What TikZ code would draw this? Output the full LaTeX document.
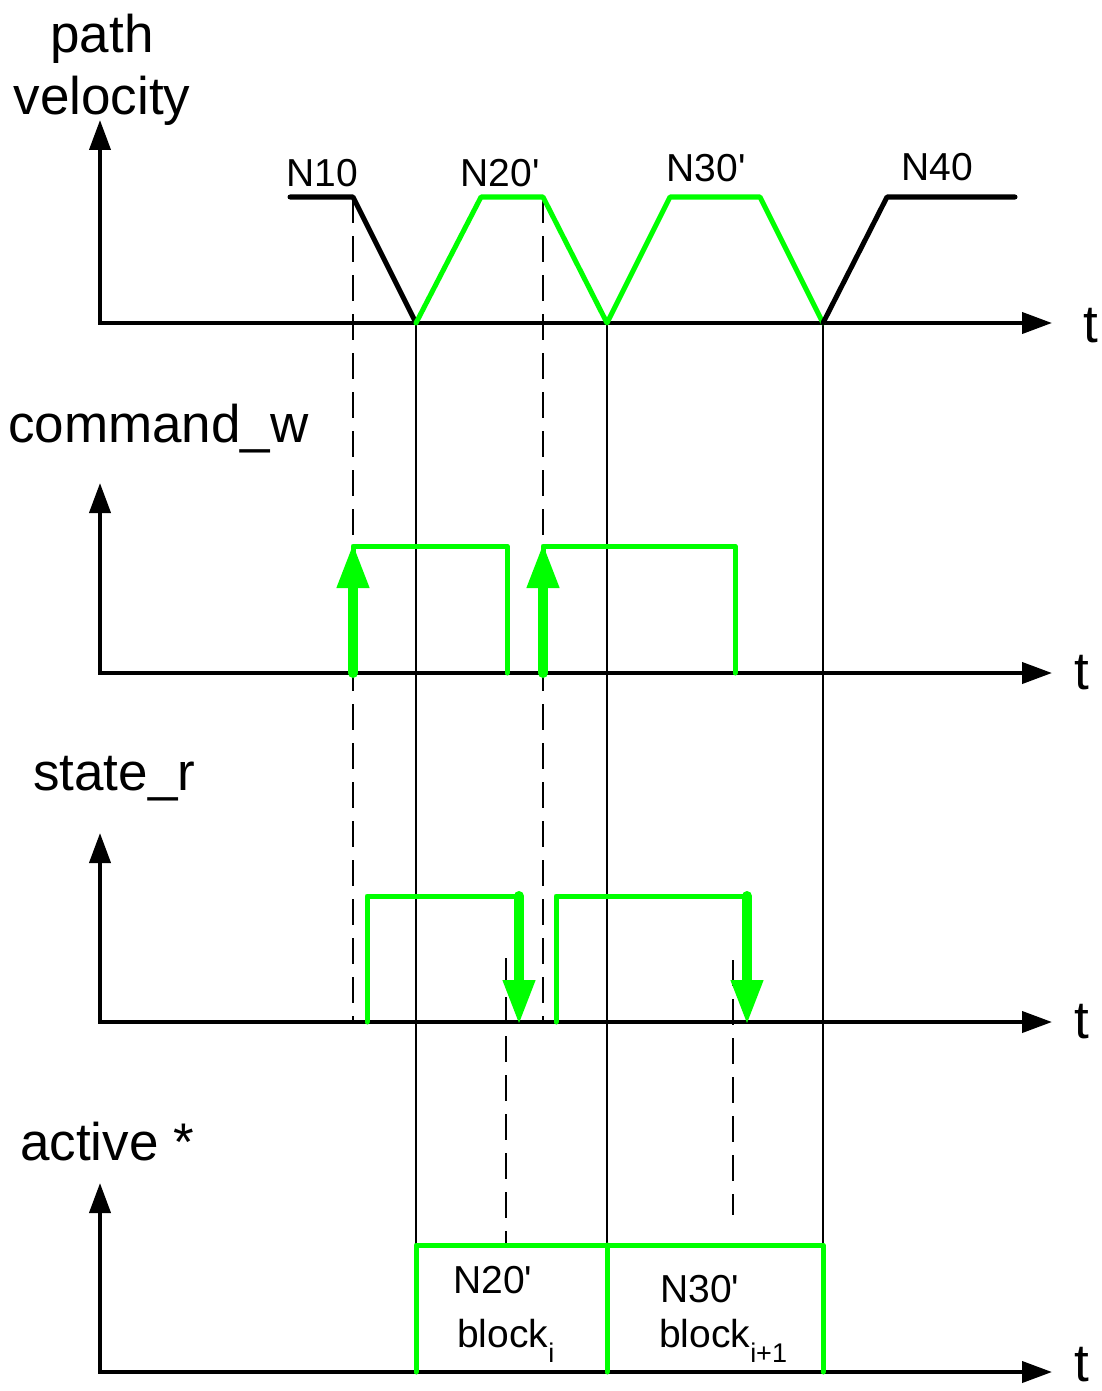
\documentclass[tikz,border=0pt]{standalone}
\usepackage{fontspec}
\setmainfont{Liberation Sans}
\usepackage{xcolor}
\usetikzlibrary{arrows.meta}
\definecolor{signal}{RGB}{0,255,0}

\begin{document}
\begin{tikzpicture}[x=1pt,y=-1pt,>={Triangle[width=21pt,length=30pt]},line join=round,inner sep=0pt]
                \tikzset{axis/.style={<->, line width=4pt, line join=miter},
                         wave/.style={signal, line width=5pt, line cap=round},
                         event/.style={signal, line width=10pt, line cap=round, -{Triangle[width=30pt,length=45pt]}},
                         guide/.style={line width=1.6pt},
                         hint/.style={guide, dash pattern=on 26pt off 13pt},
                         title/.style={font=\fontsize{53}{62}\selectfont},
                         tag/.style={font=\fontsize{39}{44}\selectfont, anchor=base}}

                \useasboundingbox (0,0) rectangle (1101,1391);

                % time marks
                \draw[guide] (416,323) -- (416,1372);
                \draw[guide] (607,323) -- (607,1372);
                \draw[guide] (823,323) -- (823,1372);
                \draw[hint] (353,197) -- (353,1022);
                \draw[hint] (543,197) -- (543,1022);
                \draw[hint] (506,958) -- (506,1245);
                \draw[hint] (733,960) -- (733,1215);

                % axes
                \foreach \y/\top in {323/120, 673/483, 1022/833, 1372/1183}
                  \draw[axis] (100,\top) -- (100,\y) -- (1052,\y);

                \node[title, align=center] (V) at (102,70) {path\\velocity};
                \node[title, anchor=base west] (C) at (8,442) {command\_w};
                \node[title, anchor=base west] (S) at (33,790) {state\_r};
                \node[title, anchor=base west] (A) at (20,1160) {active *};
                \node[title, anchor=base west] (T1) at (1083,342) {t};
                \node[title, anchor=base west] (T2) at (1074,689) {t};
                \node[title, anchor=base west] (T3) at (1074,1038) {t};
                \node[title, anchor=base west] (T4) at (1074,1381) {t};

                % path velocity
                \node[tag] (N10) at (322,186) {N10};
                \node[tag] (N20) at (500,186) {N20\textquotesingle};
                \node[tag] (N30) at (706,182) {N30\textquotesingle};
                \node[tag] (N40) at (937,181) {N40};
                \draw[wave, black] (290,197) -- (353,197) -- (416,323);
                \draw[wave] (416,323) -- (481,197) -- (543,197) -- (607,323) -- (670,197) -- (760,197) -- (823,323);
                \draw[wave, black] (823,323) -- (887,197) -- (1015,197);

                % command_w
                \draw[wave] (353,673) -- (353,546) -- (507,546) -- (507,673);
                \draw[wave] (543,673) -- (543,546) -- (735,546) -- (735,673);
                \draw[event] (353,673) -- (353,543);
                \draw[event] (543,673) -- (543,543);

                % state_r
                \draw[wave] (367,1022) -- (367,896) -- (519,896);
                \draw[wave] (556,1022) -- (556,896) -- (747,896);
                \draw[event] (519,896) -- (519,1025);
                \draw[event] (747,896) -- (747,1025);

                % active
                \draw[wave] (416,1372) -- (416,1245) -- (823,1245) -- (823,1372);
                \draw[wave] (607,1245) -- (607,1372);
                \node[tag, anchor=base west] (B1) at (453,1293) {N20\textquotesingle};
                \node[tag, anchor=base west] (B1i) at (457,1347) {block\raisebox{-15pt}{\fontsize{27}{27}\selectfont i}};
                \node[tag, anchor=base west] (B2) at (660,1302) {N30\textquotesingle};
                \node[tag, anchor=base west] (B2i) at (659,1347) {block\raisebox{-15pt}{\fontsize{27}{27}\selectfont i+1}};
\end{tikzpicture}
\end{document}
